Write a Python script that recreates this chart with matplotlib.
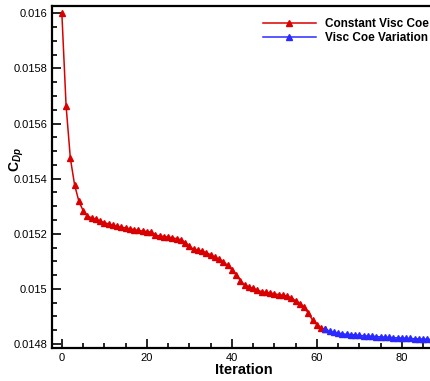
import matplotlib
matplotlib.use('Agg')
import matplotlib.pyplot as plt
from matplotlib.ticker import MultipleLocator

plt.rcParams['font.family'] = ['Liberation Sans', 'DejaVu Sans']
plt.rcParams['mathtext.fontset'] = 'custom'
plt.rcParams['mathtext.rm'] = 'Liberation Sans'
plt.rcParams['mathtext.bf'] = 'Liberation Sans:bold'
plt.rcParams['mathtext.it'] = 'Liberation Sans:italic'
plt.rcParams['mathtext.bfit'] = 'Liberation Sans:bold:italic'

# Constant viscosity coefficient run (iterations 0..62)
const_iter = list(range(0, 63))
const_cdp = [
    0.016000, 0.015663, 0.015474, 0.015377, 0.015318, 0.015284, 0.015264, 0.015258,
    0.015252, 0.015246, 0.015240, 0.015236, 0.015231, 0.015227, 0.015224, 0.015221,
    0.015218, 0.015215, 0.015212, 0.015210, 0.015208, 0.015206, 0.015195, 0.015192,
    0.015190, 0.015188, 0.015185, 0.015182, 0.015178, 0.015168, 0.015155, 0.015143,
    0.015140, 0.015136, 0.015131, 0.015124, 0.015115, 0.015107, 0.015098, 0.015085,
    0.015070, 0.015052, 0.015030, 0.015014, 0.015006, 0.015002, 0.014995, 0.014990,
    0.014987, 0.014985, 0.014982, 0.014979, 0.014977, 0.014973, 0.014966, 0.014957,
    0.014946, 0.014934, 0.014911, 0.014886, 0.014870, 0.014858, 0.014853,
]

# Variable viscosity coefficient run (iterations 62..88)
var_iter = list(range(62, 89))
var_cdp = [
    0.014853, 0.014847, 0.014843, 0.014839, 0.014837, 0.014835, 0.014834, 0.014833,
    0.014831, 0.014830, 0.014829, 0.014828, 0.014827, 0.014826, 0.014825, 0.014824,
    0.014823, 0.014822, 0.014822, 0.014821, 0.014820, 0.014819, 0.014819, 0.014818,
    0.014817, 0.014817, 0.014816,
]

fig = plt.figure(figsize=(4.31, 3.81), dpi=100)
ax = fig.add_axes([52.5 / 431, 33 / 381, 383.5 / 431, 342 / 381])

ax.plot(const_iter, const_cdp, color='#d80000', lw=1.1, marker='^', ms=4.8,
        label='Constant Visc Coe')
ax.plot(var_iter, var_cdp, color='#2a2aff', lw=1.1, marker='^', ms=4.8,
        label='Visc Coe Variation')

ax.set_xlim(-2.2, 88)
ax.set_ylim(0.0147855, 0.0160265)

ax.xaxis.set_major_locator(MultipleLocator(20))
ax.xaxis.set_minor_locator(MultipleLocator(5))
ax.yaxis.set_minor_locator(MultipleLocator(0.00005))
ax.set_yticks([0.0148, 0.015, 0.0152, 0.0154, 0.0156, 0.0158, 0.016])
ax.set_yticklabels(['0.0148', '0.015', '0.0152', '0.0154', '0.0156', '0.0158', '0.016'])

ax.tick_params(which='both', direction='in', top=False, right=False, labelsize=8, width=1.2)
ax.tick_params(which='major', length=6.5, pad=3.5)
ax.tick_params(which='minor', length=3.5)
for s in ax.spines.values():
    s.set_linewidth(1.6)

ax.set_xlabel('Iteration', fontsize=10.5, fontweight='bold', labelpad=0)
ax.set_ylabel(r'$\mathbf{C}_{\mathbfit{Dp}}$', fontsize=10)
ax.yaxis.set_label_coords(-0.068, 0.55)

fig.legend(loc='upper left', bbox_to_anchor=(262.7 / 431, 1 - 18 / 381), frameon=False,
           borderpad=0, borderaxespad=0, handlelength=4.5, handletextpad=0.8,
           labelspacing=0.15, prop={'size': 8.5, 'weight': 'bold'})

fig.savefig('out.png', dpi=100)
